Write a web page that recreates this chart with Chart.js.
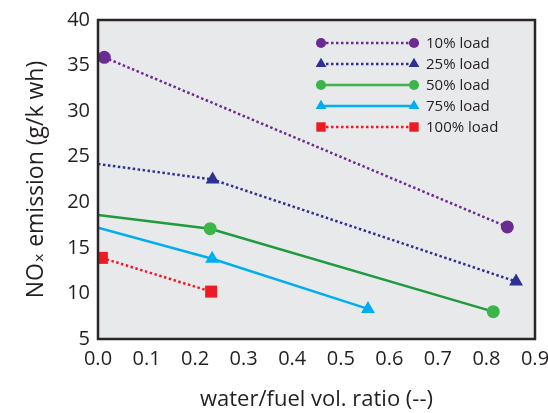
<!DOCTYPE html>
<html>
<head>
<meta charset="utf-8">
<script src="https://cdn.jsdelivr.net/npm/chart.js@4.4.0/dist/chart.umd.min.js"></script>
<style>
  body { margin: 0; background: #fff; }
  #wrap { width: 548px; height: 413px; }
</style>
</head>
<body>
<div id="wrap"><canvas id="nox-chart" width="548" height="413"></canvas></div>
<script>
// data
const seriesLabels = ['10% load', '25% load', '50% load', '75% load', '100% load'];
const x10 = [0.013, 0.843];
const y10 = [35.9, 17.3];
const x25 = [0, 0.236, 0.861];
const y25 = [24.2, 22.5, 11.3];
const x50 = [0, 0.231, 0.814];
const y50 = [18.6, 17.1, 8.0];
const x75 = [0, 0.235, 0.556];
const y75 = [17.2, 13.8, 8.3];
const x100 = [0.008, 0.233];
const y100 = [13.9, 10.2];
const xTicks = [0, 0.1, 0.2, 0.3, 0.4, 0.5, 0.6, 0.7, 0.8, 0.9];
const yTicks = [5, 10, 15, 20, 25, 30, 35, 40];

const FONT = "'Open Sans', 'DejaVu Sans', sans-serif";

function toPoints(xs, ys) {
    return xs.map((x, i) => ({ x: x, y: ys[i] }));
}

// first point of some series is only the line start, no marker
function radii(xs, r) {
    return xs.map(x => (x === 0 ? 0 : r));
}

const styles = [
    { line: '#6a2c91', fill: '#6a2c91', dash: [2.5, 2.5], shape: 'circle', r: 6.5, xs: x10, ys: y10 },
    { line: '#2e3192', fill: '#2e3192', dash: [2.5, 2.5], shape: 'triangle', r: 8, xs: x25, ys: y25 },
    { line: '#1f9a3e', fill: '#3cb44a', dash: [], shape: 'circle', r: 6.5, xs: x50, ys: y50 },
    { line: '#00aeef', fill: '#00aeef', dash: [], shape: 'triangle', r: 8, xs: x75, ys: y75 },
    { line: '#ed1c24', fill: '#ed1c24', dash: [2.5, 2.5], shape: 'rect', r: 8.5, xs: x100, ys: y100 }
];

// own marker drawing, used for the legend
function drawMarker(ctx, shape, x, y, r, color) {
    ctx.save();
    ctx.fillStyle = color;
    ctx.beginPath();
    if (shape === 'circle') {
        ctx.arc(x, y, r, 0, Math.PI * 2);
    } else if (shape === 'triangle') {
        ctx.moveTo(x, y - r);
        ctx.lineTo(x + r * 0.866, y + r * 0.5);
        ctx.lineTo(x - r * 0.866, y + r * 0.5);
        ctx.closePath();
    } else {
        const s = r * Math.SQRT1_2;
        ctx.rect(x - s, y - s, 2 * s, 2 * s);
    }
    ctx.fill();
    ctx.restore();
}

const plotFrame = {
    id: 'plotFrame',
    beforeDraw(chart) {
        const { ctx, chartArea: a } = chart;
        ctx.save();
        ctx.fillStyle = '#e8e9eb';
        ctx.fillRect(a.left, a.top, a.right - a.left, a.bottom - a.top);
        ctx.restore();
    },
    afterDraw(chart) {
        const { ctx, chartArea: a } = chart;
        ctx.save();
        ctx.strokeStyle = '#2a2627';
        ctx.lineWidth = 2.5;
        ctx.strokeRect(a.left, a.top, a.right - a.left, a.bottom - a.top);
        ctx.restore();
    }
};

const lineLegend = {
    id: 'lineLegend',
    afterDraw(chart) {
        const ctx = chart.ctx;
        const x1 = 321, x2 = 414, textX = 426;
        const y0 = 43, step = 21;
        ctx.save();
        styles.forEach((s, i) => {
            const y = y0 + i * step;
            ctx.strokeStyle = s.line === '#1f9a3e' ? '#3cb44a' : s.line;
            ctx.lineWidth = 2.5;
            ctx.setLineDash(s.dash);
            ctx.beginPath();
            ctx.moveTo(x1, y);
            ctx.lineTo(x2, y);
            ctx.stroke();
            ctx.setLineDash([]);
            drawMarker(ctx, s.shape, x1, y, s.r * 0.78, s.fill);
            drawMarker(ctx, s.shape, x2, y, s.r * 0.78, s.fill);
            ctx.fillStyle = '#231f20';
            ctx.font = '15px ' + FONT;
            ctx.textBaseline = 'middle';
            ctx.textAlign = 'left';
            ctx.fillText(seriesLabels[i], textX, y + 1);
        });
        ctx.restore();
    }
};

new Chart(document.getElementById('nox-chart'), {
    type: 'scatter',
    data: {
        datasets: styles.map((s, i) => ({
            label: seriesLabels[i],
            data: toPoints(s.xs, s.ys),
            showLine: true,
            borderColor: s.line,
            borderWidth: 2.5,
            borderDash: s.dash,
            pointStyle: s.shape,
            pointRadius: radii(s.xs, s.r),
            pointHoverRadius: radii(s.xs, s.r),
            pointBackgroundColor: s.fill,
            pointBorderColor: s.fill,
            pointBorderWidth: 0
        }))
    },
    options: {
        responsive: false,
        animation: false,
        layout: { padding: { top: 20, right: 13, bottom: 0, left: 0 } },
        plugins: {
            legend: { display: false },
            tooltip: { enabled: false }
        },
        scales: {
            x: {
                type: 'linear',
                min: 0,
                max: 0.9,
                afterBuildTicks: scale => { scale.ticks = xTicks.map(v => ({ value: v })); },
                afterFit: scale => {
                    scale.height = 74;
                    scale.paddingLeft = 0;
                    scale.paddingRight = 0;
                },
                grid: { display: false, drawTicks: false },
                border: { display: false },
                ticks: {
                    padding: 8,
                    color: '#231f20',
                    font: { family: FONT, size: 20 },
                    callback: v => Number(v).toFixed(1)
                },
                title: {
                    display: true,
                    text: 'water/fuel vol. ratio (--)',
                    color: '#231f20',
                    font: { family: FONT, size: 22 },
                    padding: { top: 0, bottom: 0 }
                }
            },
            y: {
                type: 'linear',
                min: 5,
                max: 40,
                afterBuildTicks: scale => { scale.ticks = yTicks.map(v => ({ value: v })); },
                afterFit: scale => {
                    scale.width = 98;
                    scale.paddingTop = 0;
                    scale.paddingBottom = 0;
                },
                grid: { display: false, drawTicks: false },
                border: { display: false },
                ticks: {
                    padding: 8,
                    color: '#231f20',
                    font: { family: FONT, size: 20 }
                },
                title: {
                    display: true,
                    text: 'NOₓ emission (g/k wh)',
                    color: '#231f20',
                    font: { family: FONT, size: 23 },
                    padding: { top: 23, bottom: 0 }
                }
            }
        }
    },
    plugins: [plotFrame, lineLegend]
});
</script>
</body>
</html>
